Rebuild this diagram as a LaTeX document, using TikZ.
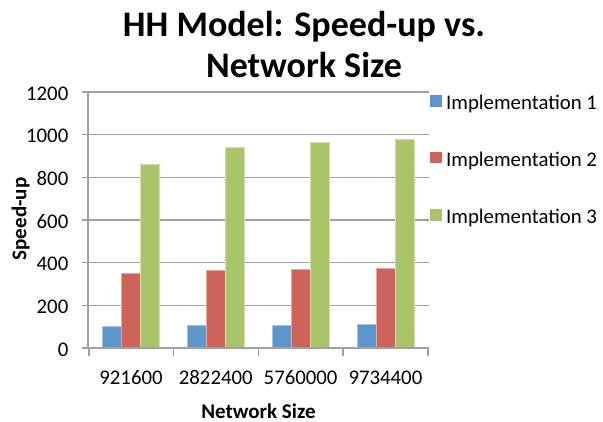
\documentclass[tikz,border=0pt]{standalone}
\usepackage{fontspec}
\setmainfont{Carlito}
\definecolor{barblue}{RGB}{93,150,205}
\definecolor{barred}{RGB}{206,99,92}
\definecolor{bargreen}{RGB}{170,196,105}
\definecolor{gridgray}{RGB}{160,160,160}
\begin{document}
\begin{tikzpicture}[x=1pt,y=-1pt,
  gridline/.style={draw=gridgray,line width=1.5pt},
  axisline/.style={draw=gridgray,line width=1.8pt},
  tickline/.style={draw=gridgray,line width=1.5pt},
  bar/.style={line width=0.6pt},
  ticklabel/.style={font=\fontsize{20.8}{25}\selectfont,inner sep=0pt},
  axistitle/.style={font=\fontsize{21}{25}\selectfont\bfseries,inner sep=0pt},
  titletext/.style={font=\fontsize{36}{42}\selectfont\bfseries,inner sep=0pt},
  legendbox/.style={inner sep=0pt,minimum width=11.5pt,minimum height=11.5pt},
]
\useasboundingbox[fill=white] (0,0) rectangle (603,422);
% title
\node[titletext,anchor=base] (t1) at (304,37) {HH Model: Speed-up vs.};
\node[titletext,anchor=base] (t2) at (304,78) {Network Size};
% gridlines and y labels
\foreach \v/\n in {200/g1,400/g2,600/g3,800/g4,1000/g5,1200/g6}{
  \path[gridline] (88,{348-\v*0.21333}) -- (428.5,{348-\v*0.21333});
}
\foreach \v/\n in {0/y0,200/y1,400/y2,600/y3,800/y4,1000/y5,1200/y6}{
  \path[tickline] (81.5,{348-\v*0.21333}) -- (88,{348-\v*0.21333});
  \node[ticklabel,anchor=east] (\n) at (68.5,{349.5-\v*0.21333}) {\v};
}
% bars
\foreach \i/\a/\b/\c in {0/100/352/862,1/108/366/940,2/108/369/966,3/113/375/976}{
  \pgfmathsetmacro{\cx}{131+84.8*\i}
  \path[bar,fill=barblue,draw=barblue!55!white] ({\cx-28.5},348) rectangle ({\cx-9.5},{348-\a*0.21333});
  \path[bar,fill=barred,draw=barred!55!white] ({\cx-9.5},348) rectangle ({\cx+9.5},{348-\b*0.21333});
  \path[bar,fill=bargreen,draw=bargreen!55!white] ({\cx+9.5},348) rectangle ({\cx+28.5},{348-\c*0.21333});
}
% axes
\path[axisline] (88,92.3) -- (88,348);
\path[axisline] (87,348) -- (429,348);
\foreach \i in {0,1,2,3,4}{
  \path[tickline] ({88.8+84.8*\i},348) -- ({88.8+84.8*\i},356);
}
% x labels
\node[ticklabel,anchor=base] (x1) at (131,384.5) {921600};
\node[ticklabel,anchor=base] (x2) at (215.8,384.5) {2822400};
\node[ticklabel,anchor=base] (x3) at (300.6,384.5) {5760000};
\node[ticklabel,anchor=base] (x4) at (385.4,384.5) {9734400};
% axis titles
\node[axistitle,anchor=base] (xt) at (258.5,418) {Network Size};
\node[axistitle,rotate=90,anchor=base] (yt) at (26.5,219) {Speed-up};
% legend
\node[legendbox,fill=barblue] (l1) at (436,101) {};
\node[legendbox,fill=barred] (l2) at (436,157.5) {};
\node[legendbox,fill=bargreen] (l3) at (436,215) {};
\node[ticklabel,anchor=base west] (lt1) at (446,110) {Implementation 1};
\node[ticklabel,anchor=base west] (lt2) at (446,167) {Implementation 2};
\node[ticklabel,anchor=base west] (lt3) at (446,224) {Implementation 3};
\end{tikzpicture}
\end{document}
